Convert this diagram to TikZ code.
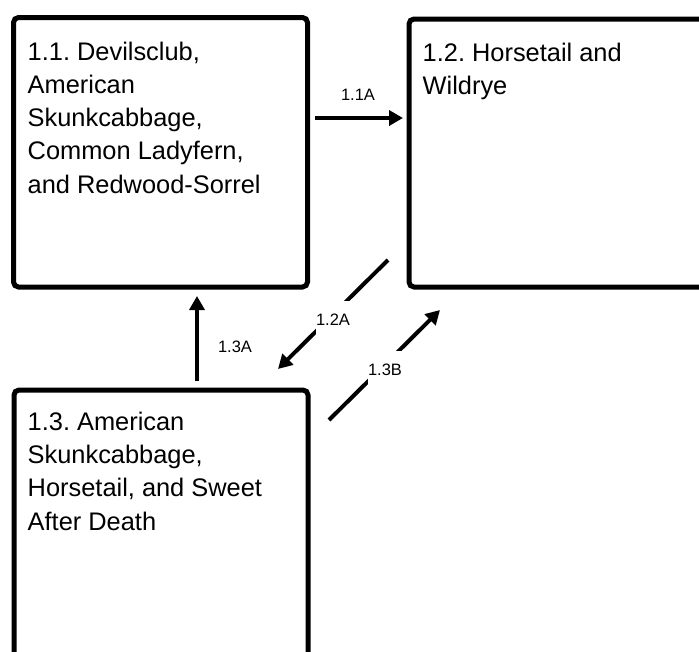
\documentclass[tikz,border=0pt]{standalone}
\usepackage{fontspec}
\setmainfont{Liberation Sans}
\usetikzlibrary{arrows.meta}
\frenchspacing
\begin{document}
\begin{tikzpicture}[x=1pt,y=-1pt,
  statebox/.style={draw=black, line width=5pt, rounded corners=5pt, inner sep=0pt, outer sep=0pt},
  boxtext/.style={anchor=north west, align=left, inner sep=0pt, font=\fontsize{25.4}{33.25}\selectfont},
  conn/.style={line width=4pt, -{Triangle[length=14pt,width=15pt]}},
  lbl/.style={font=\fontsize{16.5}{18}\selectfont, inner sep=0pt},
  lblcut/.style={lbl, fill=white, inner xsep=0pt, minimum height=38pt}
]
\useasboundingbox (0,0) rectangle (699,651);
% boxes
\node[statebox, minimum width=294pt, minimum height=269.5pt] (b11) at (160.5,152.25) {};
\node[statebox, minimum width=303pt, minimum height=268pt] (b12) at (560.5,153) {};
\node[statebox, minimum width=294pt, minimum height=275pt] (b13) at (161,527.5) {};
% box texts
\node[boxtext] (t11) at (27.5,41.6) {1.1. Devilsclub,\\American\\Skunkcabbage,\\Common Ladyfern,\\and Redwood-Sorrel};
\node[boxtext] (t12) at (422.5,42.6) {1.2. Horsetail and\\Wildrye};
\node[boxtext] (t13) at (27.5,411.8) {1.3. American\\Skunkcabbage,\\Horsetail, and Sweet\\After Death};
% connector end points
\coordinate (a1s) at (315,118);
\coordinate (a1e) at (403,118);
\coordinate (a3s) at (197,381);
\coordinate (a3e) at (197,296);
\coordinate (a2s) at (388,260);
\coordinate (a2e) at (278,369);
\coordinate (a4s) at (329,420);
\coordinate (a4e) at (440,310);
% connectors
\draw[conn] (a1s) -- (a1e);
\draw[conn] (a3s) -- (a3e);
\draw[conn] (a2s) -- (a2e);
\draw[conn] (a4s) -- (a4e);
% labels
\node[lbl] (l11) at (358,95) {1.1A};
\node[lbl] (l13a) at (235,347) {1.3A};
\node[lblcut] (l12) at (333,320) {1.2A};
\node[lblcut] (l13b) at (385,370) {1.3B};
\end{tikzpicture}
\end{document}
